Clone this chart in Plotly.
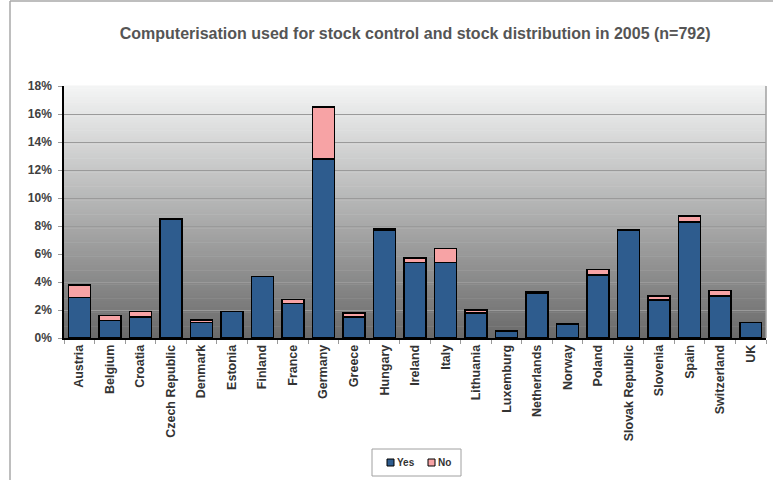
import plotly.graph_objects as go

# Share of pharmacies (%) by country
countries = [
    "Austria", "Belgium", "Croatia", "Czech Republic", "Denmark", "Estonia",
    "Finland", "France", "Germany", "Greece", "Hungary", "Ireland", "Italy",
    "Lithuania", "Luxemburg", "Netherlands", "Norway", "Poland",
    "Slovak Republic", "Slovenia", "Spain", "Switzerland", "UK",
]
yes_values = [2.9, 1.25, 1.5, 8.5, 1.1, 1.9, 4.4, 2.45, 12.8, 1.5, 7.7, 5.4, 5.4,
              1.8, 0.5, 3.2, 1.0, 4.5, 7.7, 2.7, 8.3, 3.0, 1.1]
no_values = [0.9, 0.35, 0.4, 0.0, 0.2, 0.0, 0.0, 0.3, 3.7, 0.3, 0.1, 0.3, 1.0,
             0.2, 0.0, 0.1, 0.0, 0.4, 0.0, 0.3, 0.4, 0.4, 0.0]
y_ticks = [0, 2, 4, 6, 8, 10, 12, 14, 16, 18]
y_tick_labels = [f"{v}%" for v in y_ticks]

FONT = "Arial, Liberation Sans, sans-serif"
YES_COLOR = "#2e5c8e"
NO_COLOR = "#f7a3a5"
outline = dict(color="#000000", width=1.5)

# plot area in pixels (used to place decorations outside it)
L, R, T, B = 64, 766, 86, 338


def px_x(px):
    return (px - L) / (R - L)


def px_y(py):
    return (B - py) / (B - T)


fig = go.Figure()
fig.add_trace(go.Bar(x=countries, y=yes_values, name="Yes",
                     marker=dict(color=YES_COLOR, line=outline)))
# zero-height segments would still get an outline, so leave them out
fig.add_trace(go.Bar(x=countries, y=[v if v > 0 else None for v in no_values], name="No",
                     marker=dict(color=NO_COLOR, line=outline)))

# grey gradient behind the plot area, light at top and dark at bottom
shapes = []
n_strips = 90
top_rgb, bottom_rgb = (244, 245, 245), (106, 106, 106)
for i in range(n_strips):
    t = (i + 0.5) / n_strips
    rgb = [round(b + (a - b) * t) for a, b in zip(top_rgb, bottom_rgb)]
    shapes.append(dict(type="rect", xref="paper", yref="paper",
                       x0=0, x1=1, y0=i / n_strips, y1=(i + 1) / n_strips + 0.002,
                       fillcolor=f"rgb({rgb[0]},{rgb[1]},{rgb[2]})",
                       line=dict(width=0), layer="below"))

# right border of plot area and outer chart frame
shapes.append(dict(type="line", xref="paper", yref="paper", x0=1, x1=1, y0=0, y1=1,
                   line=dict(color="#a0a0a0", width=1.5)))
shapes.append(dict(type="line", xref="paper", yref="paper", x0=px_x(10), x1=px_x(780),
                   y0=px_y(1), y1=px_y(1), line=dict(color="#a8a8a8", width=1.5)))
shapes.append(dict(type="line", xref="paper", yref="paper", x0=px_x(10), x1=px_x(10),
                   y0=px_y(490), y1=px_y(1), line=dict(color="#a8a8a8", width=1.5)))

# legend box drawn by hand so it is as compact as the original
shapes.append(dict(type="rect", xref="paper", yref="paper",
                   x0=px_x(372), x1=px_x(461), y0=px_y(476), y1=px_y(449),
                   line=dict(color="#a0a0a0", width=1), fillcolor="white"))
annotations = []
for name, color, sx in [("Yes", YES_COLOR, 387), ("No", NO_COLOR, 428)]:
    shapes.append(dict(type="rect", xref="paper", yref="paper",
                       x0=px_x(sx), x1=px_x(sx + 7), y0=px_y(466), y1=px_y(459),
                       line=dict(color="#000000", width=1), fillcolor=color))
    annotations.append(dict(text=name, xref="paper", yref="paper",
                            x=px_x(sx + 7.5), y=px_y(462.5), xanchor="left", yanchor="middle",
                            showarrow=False,
                            font=dict(family=FONT, size=10, color="#333333", weight="bold")))

fig.update_layout(
    barmode="stack",
    bargap=0.28,
    width=773,
    height=480,
    margin=dict(l=L, r=773 - R, t=T, b=480 - B),
    paper_bgcolor="white",
    plot_bgcolor="rgba(0,0,0,0)",
    font=dict(family=FONT, color="#333333"),
    title=dict(
        text="Computerisation used for stock control and stock distribution in 2005 (n=792)",
        x=0.537, xanchor="center", y=0.931, yanchor="middle",
        font=dict(family=FONT, size=16, color="#555555", weight="bold"),
    ),
    showlegend=False,
    shapes=shapes,
    annotations=annotations,
)
fig.update_xaxes(
    tickangle=-90, automargin=False,
    tickfont=dict(family=FONT, size=12.5, color="#333333", weight="bold"),
    showline=True, linecolor="#000000", linewidth=1.5,
    ticks="outside", tickson="boundaries", ticklen=4, tickcolor="#999999",
    showgrid=False,
)
fig.update_yaxes(
    range=[0, 18], tickvals=y_ticks, ticktext=y_tick_labels, automargin=False,
    tickfont=dict(family=FONT, size=12, color="#404040", weight="bold"),
    showline=True, linecolor="#000000", linewidth=1.5,
    ticks="outside", ticklen=4, tickcolor="#999999", ticklabelstandoff=4,
    showgrid=True, gridcolor="#9a9a9a", gridwidth=1, zeroline=False,
)

fig.write_html(
    "out.html",
    config={"displayModeBar": False},
    post_script="document.body.style.margin='0';document.body.style.overflow='hidden';",
)
